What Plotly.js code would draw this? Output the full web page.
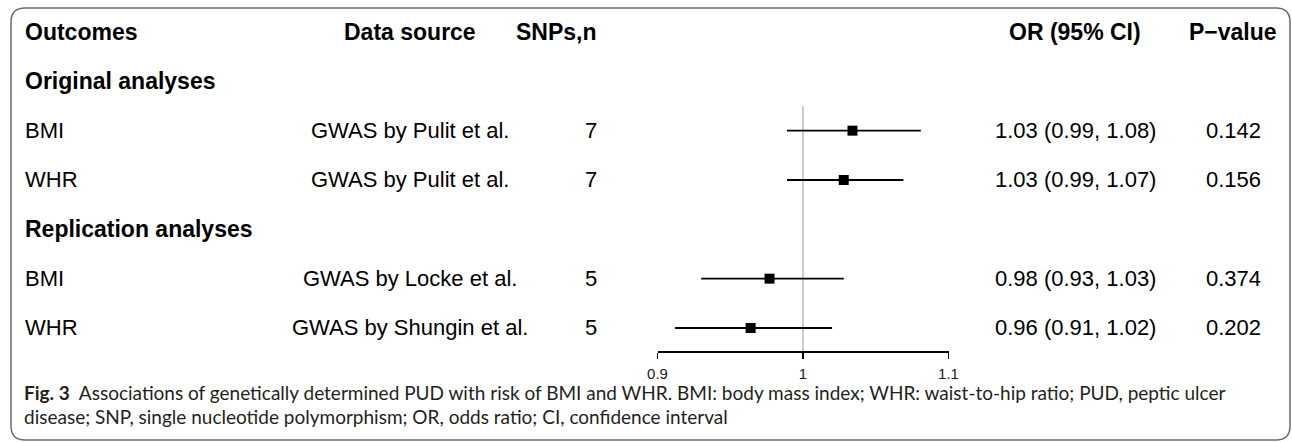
<!DOCTYPE html>
<html>
<head>
<meta charset="utf-8">
<script src="https://cdn.plot.ly/plotly-3.0.1.min.js"></script>
<style>html,body{margin:0;padding:0;background:#fff;}#chart{width:1292px;height:442px;}</style>
</head>
<body>
<div id="chart"></div>
<script>
// ---- data ----
const headers = ['Outcomes', 'Data source', 'SNPs,n', 'OR (95% CI)', 'P\u2212value'];
const groupLabels = ['Original analyses', 'Replication analyses'];
const groupOf = [0, 0, 1, 1];
const outcomes = ['BMI', 'WHR', 'BMI', 'WHR'];
const sources = ['GWAS by Pulit et al.', 'GWAS by Pulit et al.', 'GWAS by Locke et al.', 'GWAS by Shungin et al.'];
const snps = ['7', '7', '5', '5'];
const orVals = [1.034, 1.028, 0.977, 0.964];
const ciLow = [0.989, 0.989, 0.930, 0.912];
const ciHigh = [1.081, 1.069, 1.028, 1.020];
const orText = ['1.03 (0.99, 1.08)', '1.03 (0.99, 1.07)', '0.98 (0.93, 1.03)', '0.96 (0.91, 1.02)'];
const pVals = ['0.142', '0.156', '0.374', '0.202'];
const xTicks = [0.9, 1, 1.1];
const xTickText = ['0.9', '1', '1.1'];
const refValue = 1;
const captionBold = 'Fig. 3';
const captionLine1 = 'Associations of genetically determined PUD with risk of BMI and WHR. BMI: body mass index; WHR: waist-to-hip ratio; PUD, peptic ulcer';
const captionLine2 = 'disease; SNP, single nucleotide polymorphism; OR, odds ratio; CI, confidence interval';

// ---- geometry ----
const W = 1292, H = 442;
const rowTop = 32, rowStep = 49.33;
const px = v => v / W;
const py = v => 1 - v / H;
const pxToRow = p => (p - rowTop) / rowStep;

// build row indices: header 0, then group label rows and data rows
const dataRow = [];
const groupRow = [];
let r = 1;
groupLabels.forEach((g, gi) => {
  groupRow.push(r); r++;
  groupOf.forEach((go, i) => { if (go === gi) { dataRow[i] = r; r++; } });
});

const axisY = 351;
const FONT = 'Liberation Sans, Arial, Helvetica, sans-serif';
const boldF = {family: FONT, size: 23, color: '#000', weight: 'bold'};
const regF = {family: FONT, size: 22, color: '#000'};

const col = {
  out: {x: 23, anchor: 'left'},
  src: {x: 410, anchor: 'center'},
  snp: {x: 599, anchor: 'right'},
  or: {x: 1075, anchor: 'center'},
  p: {x: 1233, anchor: 'center'}
};
const cols = [col.out, col.src, col.snp, col.or, col.p];

const ann = [];
function addText(text, c, row, font) {
  ann.push({text: text, xref: 'paper', yref: 'y', x: px(c.x), y: row,
    xanchor: c.anchor, yanchor: 'middle', showarrow: false, font: font});
}
headers.forEach((h, i) => addText('<b>' + h + '</b>', cols[i], 0, boldF));
groupLabels.forEach((g, i) => addText('<b>' + g + '</b>', col.out, groupRow[i], boldF));
outcomes.forEach((o, i) => {
  addText(o, col.out, dataRow[i], regF);
  addText(sources[i], col.src, dataRow[i], regF);
  addText(snps[i], col.snp, dataRow[i], regF);
  addText(orText[i], col.or, dataRow[i], regF);
  addText(pVals[i], col.p, dataRow[i], regF);
});
const capF = {family: 'Lato, Noto Sans, sans-serif', size: 19, color: '#231f20'};
ann.push({text: '<b>' + captionBold + '</b>  ' + captionLine1, xref: 'paper', yref: 'paper',
  x: px(22), y: py(392), xanchor: 'left', yanchor: 'middle', showarrow: false, font: capF});
ann.push({text: captionLine2, xref: 'paper', yref: 'paper',
  x: px(22), y: py(416), xanchor: 'left', yanchor: 'middle', showarrow: false, font: capF});

// frame with rounded corners (paper coords)
const fx0 = 11, fy0 = 8, fx1 = 1290, fy1 = 440, rad = 14;
const P = (x, y) => px(x) + ',' + py(y);
const framePath = 'M' + P(fx0 + rad, fy0) + ' L' + P(fx1 - rad, fy0) +
  ' Q' + P(fx1, fy0) + ' ' + P(fx1, fy0 + rad) +
  ' L' + P(fx1, fy1 - rad) + ' Q' + P(fx1, fy1) + ' ' + P(fx1 - rad, fy1) +
  ' L' + P(fx0 + rad, fy1) + ' Q' + P(fx0, fy1) + ' ' + P(fx0, fy1 - rad) +
  ' L' + P(fx0, fy0 + rad) + ' Q' + P(fx0, fy0) + ' ' + P(fx0 + rad, fy0) + ' Z';

const trace = {
  type: 'scatter', mode: 'markers',
  x: orVals, y: dataRow,
  marker: {symbol: 'square', size: 10, color: '#000'},
  error_x: {type: 'data', symmetric: false,
    array: orVals.map((v, i) => ciHigh[i] - v),
    arrayminus: orVals.map((v, i) => v - ciLow[i]),
    color: '#000', thickness: 1.8, width: 0},
  cliponaxis: false, hoverinfo: 'skip', showlegend: false
};

const yBottom = pxToRow(H), yTop = pxToRow(0);
const layout = {
  width: W, height: H,
  margin: {l: 0, r: 0, t: 0, b: 0},
  paper_bgcolor: '#fff', plot_bgcolor: 'rgba(0,0,0,0)',
  showlegend: false,
  xaxis: {domain: [px(657.5), px(948.5)], range: [xTicks[0], xTicks[xTicks.length - 1]],
    tickvals: xTicks, ticktext: xTickText, showgrid: false, zeroline: false,
    showline: true, linecolor: '#000', linewidth: 1.5,
    ticks: 'outside', ticklen: 6, tickwidth: 1.5, tickcolor: '#000',
    ticklabelstandoff: 2,
    tickfont: {family: FONT, size: 15, color: '#1a1a1a'},
    anchor: 'free', position: py(axisY), fixedrange: true},
  yaxis: {domain: [0, 1], range: [yBottom, yTop], visible: false, fixedrange: true},
  shapes: [
    {type: 'line', xref: 'x', yref: 'y', x0: refValue, x1: refValue,
      y0: pxToRow(106), y1: pxToRow(axisY), line: {color: '#bdbdbd', width: 1.5}, layer: 'below'},
    {type: 'path', xref: 'paper', yref: 'paper', path: framePath,
      line: {color: '#6b6b6b', width: 1.5}, fillcolor: 'rgba(0,0,0,0)'}
  ],
  annotations: ann
};

Plotly.newPlot('chart', [trace], layout, {displayModeBar: false, staticPlot: true});
</script>
</body>
</html>
